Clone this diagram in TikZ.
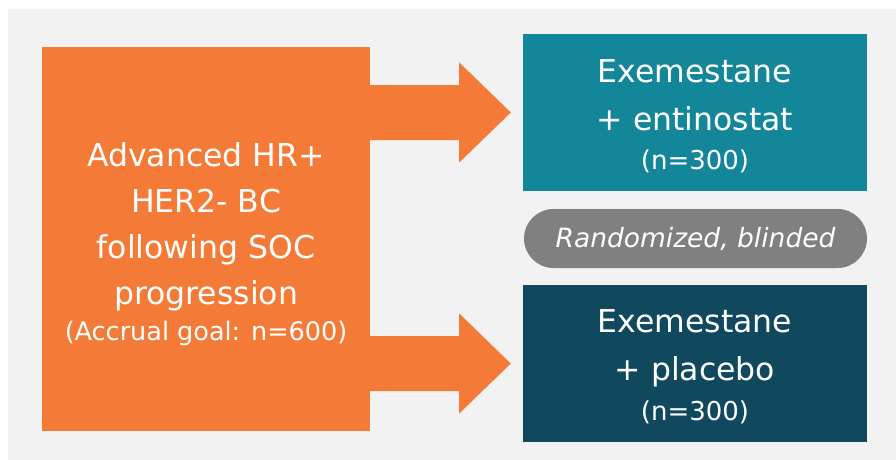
\documentclass[tikz,border=0pt]{standalone}
\usepackage{fontspec}
\setmainfont{DejaVu Sans}
\usetikzlibrary{positioning,calc}
\definecolor{srcorange}{HTML}{F37B37}
\definecolor{armteal}{HTML}{13869A}
\definecolor{armnavy}{HTML}{10485E}
\definecolor{pillgray}{HTML}{808080}
\definecolor{backgray}{HTML}{F2F2F2}
\tikzset{
  box/.style={rectangle,inner sep=0pt,text=white,align=center},
  armbox/.style={box,minimum width=344pt,minimum height=157pt},
  pill/.style={box,fill=pillgray,rounded corners=29.5pt,minimum width=343pt,minimum height=59pt},
  bigtext/.style={font=\fontsize{31.5}{46}\selectfont},
  armtext/.style={font=\fontsize{31.5}{48}\selectfont}
}

\begin{document}
\begin{tikzpicture}[x=1pt,y=-1pt]
\useasboundingbox (0,0) rectangle (896,460);
\fill[backgray] (8,9) rectangle (896,460);

\node[box,fill=srcorange,minimum width=328pt,minimum height=384pt,
  label={[box,bigtext,yshift=-5pt]center:{Advanced HR+\\HER2- BC\\following SOC\\progression\\[-10pt]{\fontsize{25.5}{30}\selectfont (Accrual goal: n=600)}}}]
  (src) at (206,239) {};
\node[armbox,fill=armteal,
  label={[box,armtext,yshift=-3.5pt]center:{Exemestane\\+ entinostat\\[-9pt]{\fontsize{26}{30}\selectfont (n=300)}}}]
  (armA) at (695,112.5) {};
\node[armbox,fill=armnavy,
  label={[box,armtext,yshift=-3pt]center:{Exemestane\\+ placebo\\[-8pt]{\fontsize{26}{30}\selectfont (n=300)}}}]
  (armB) at (695,363.5) {};
\node[pill,font=\fontsize{26.5}{30}\selectfont\itshape] (rand) at (695.5,238.5) {Randomized, blinded};

% block arrows from source to both arms
\foreach \t in {armA,armB}
\fill[srcorange] ($(src.east |- \t.west)+(0,-27.5)$) -- ++(89,0) -- ++(0,-22.5)
  -- ($(\t.west)+(-12,0)$) -- ($(src.east |- \t.west)+(89,50)$) -- ++(0,-22.5)
  -- ($(src.east |- \t.west)+(0,27.5)$) -- cycle;
\end{tikzpicture}
\end{document}
